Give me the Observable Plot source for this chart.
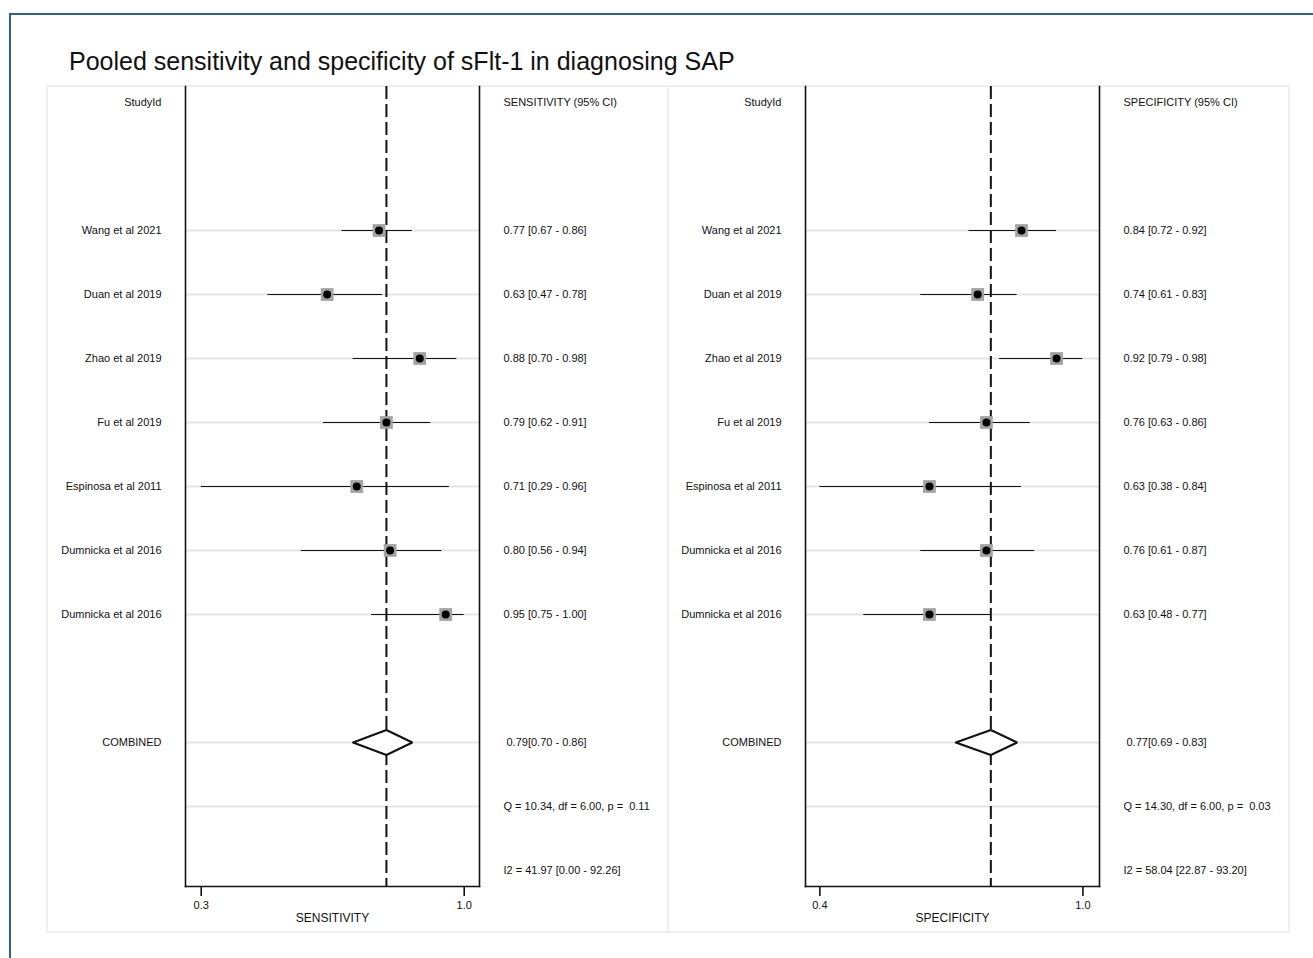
<!DOCTYPE html>
<html>
<head>
<meta charset="utf-8">
<script src="https://cdn.jsdelivr.net/npm/d3@7"></script>
<script src="https://cdn.jsdelivr.net/npm/@observablehq/plot@0.6"></script>
<style>
  body { margin: 0; background: #fff; width: 1313px; height: 958px; overflow: hidden; position: relative; font-family: "Liberation Sans", Arial, sans-serif; }
  #outer { position: absolute; left: 9px; top: 13px; width: 1400px; height: 1000px; border-left: 2px solid #2f5f93; border-top: 2px solid #2f5f93; }
  #title { position: absolute; left: 69px; top: 46px; font-size: 25px; line-height: 30px; color: #111; white-space: nowrap; }
  .panel { position: absolute; top: 85px; height: 848px; box-sizing: border-box; border: 2px solid #efefef; }
  .plot { position: absolute; top: 86px; }
</style>
</head>
<body>
<div id="outer"></div>
<div id="title">Pooled sensitivity and specificity of sFlt-1 in diagnosing SAP</div>
<div class="panel" style="left:46px;width:623px"></div>
<div class="panel" style="left:667px;width:623px"></div>
<div id="p1" class="plot" style="left:47px;width:620px"></div>
<div id="p2" class="plot" style="left:667px;width:621px"></div>
<script>
// ---- data ----
const studyNames = ["Wang et al 2021", "Duan et al 2019", "Zhao et al 2019", "Fu et al 2019", "Espinosa et al 2011", "Dumnicka et al 2016", "Dumnicka et al 2016"];

const sensEst = [0.77, 0.63, 0.88, 0.79, 0.71, 0.80, 0.95];
const sensLo  = [0.67, 0.47, 0.70, 0.62, 0.29, 0.56, 0.75];
const sensHi  = [0.86, 0.78, 0.98, 0.91, 0.96, 0.94, 1.00];
const sensPooled = [0.79, 0.70, 0.86];
const sensQ = "Q = 10.34, df = 6.00, p =\u00a0\u00a00.11";
const sensI2 = "I2 = 41.97 [0.00 - 92.26]";
const sensTicks = [0.29, 1.00];

const specEst = [0.84, 0.74, 0.92, 0.76, 0.63, 0.76, 0.63];
const specLo  = [0.72, 0.61, 0.79, 0.63, 0.38, 0.61, 0.48];
const specHi  = [0.92, 0.83, 0.98, 0.86, 0.84, 0.87, 0.77];
const specPooled = [0.77, 0.69, 0.83];
const specQ = "Q = 14.30, df = 6.00, p =\u00a0\u00a00.03";
const specI2 = "I2 = 58.04 [22.87 - 93.20]";
const specTicks = [0.38, 0.98];

// ---- layout constants ----
const HEADER_ROW = 0, FIRST_STUDY_ROW = 2, COMBINED_ROW = 10, Q_ROW = 11, I2_ROW = 12;
const f2 = d3.format(".2f");
const FONT = "'Liberation Sans', Arial, Helvetica, sans-serif";

function panel(o) {
  const studies = studyNames.map((name, i) => ({
    name, row: FIRST_STUDY_ROW + i, est: o.est[i], lo: o.lo[i], hi: o.hi[i],
    label: `${f2(o.est[i])} [${f2(o.lo[i])} - ${f2(o.hi[i])}]`
  }));
  const [pe, pl, ph] = o.pooled;
  const hh = 0.195;
  const diamond = [[pl, 0], [pe, -hh], [ph, 0], [pe, hh], [pl, 0]].map(([x, d]) => ({x, y: COMBINED_ROW + d}));
  const lineRows = [...studies.map(d => d.row), COMBINED_ROW, Q_ROW];
  const leftText = [{row: HEADER_ROW, t: "StudyId"}, ...studies.map(d => ({row: d.row, t: d.name})), {row: COMBINED_ROW, t: "COMBINED"}];
  const rightText = [{row: HEADER_ROW, t: o.header}, ...studies.map(d => ({row: d.row, t: d.label})), {row: Q_ROW, t: o.q}, {row: I2_ROW, t: o.i2}];
  return Plot.plot({
    width: o.width, height: 846,
    marginLeft: 138, marginRight: o.marginRight, marginTop: 0, marginBottom: 46,
    style: {fontFamily: FONT, fontSize: "11px", color: "#111", background: "transparent", overflow: "visible", maxWidth: "none"},
    x: {domain: o.domain, label: null},
    y: {domain: [-0.25, 12.25], reverse: true, axis: null},
    marks: [
      Plot.ruleY(lineRows, {stroke: "#e4e4e4", strokeWidth: 2}),
      Plot.ruleX([pe], {stroke: "#111", strokeWidth: 2, strokeDasharray: "13,5"}),
      Plot.ruleY(studies, {y: "row", x1: "lo", x2: "hi", stroke: "#111", strokeWidth: 1.2}),
      Plot.dot(studies, {x: "est", y: "row", symbol: "square", r: 7.2, fill: "#a3a3a3"}),
      Plot.dot(studies, {x: "est", y: "row", r: 4, fill: "#000"}),
      Plot.line(diamond, {x: "x", y: "y", stroke: "#111", strokeWidth: 2, fill: "white", strokeLinejoin: "miter"}),
      Plot.frame({anchor: "left", stroke: "#111", strokeWidth: 1.6}),
      Plot.frame({anchor: "right", stroke: "#111", strokeWidth: 1.6}),
      Plot.frame({anchor: "bottom", stroke: "#111", strokeWidth: 1.6}),
      Plot.axisX({ticks: o.ticks, tickFormat: ".1f", tickSize: 10, tickPadding: 5, strokeWidth: 1.6, label: null, fontSize: 11}),
      Plot.text([o.axisLabel], {text: d => d, frameAnchor: "bottom", dy: 35, fontSize: 12}),
      Plot.text(leftText, {y: "row", text: "t", frameAnchor: "left", dx: -24, textAnchor: "end"}),
      Plot.text(rightText, {y: "row", text: "t", frameAnchor: "right", dx: 24, textAnchor: "start"}),
      Plot.text([{row: COMBINED_ROW, t: `${f2(pe)}[${f2(pl)} - ${f2(ph)}]`}], {y: "row", text: "t", frameAnchor: "right", dx: 27, textAnchor: "start"})
    ]
  });
}

document.getElementById("p1").append(panel({
  est: sensEst, lo: sensLo, hi: sensHi, pooled: sensPooled, q: sensQ, i2: sensI2,
  ticks: sensTicks, domain: [0.2476, 1.0413], header: "SENSITIVITY (95% CI)", axisLabel: "SENSITIVITY",
  width: 620, marginRight: 188
}));
document.getElementById("p2").append(panel({
  est: specEst, lo: specLo, hi: specHi, pooled: specPooled, q: specQ, i2: specI2,
  ticks: specTicks, domain: [0.3472, 1.0179], header: "SPECIFICITY (95% CI)", axisLabel: "SPECIFICITY",
  width: 621, marginRight: 189
}));
</script>
</body>
</html>
